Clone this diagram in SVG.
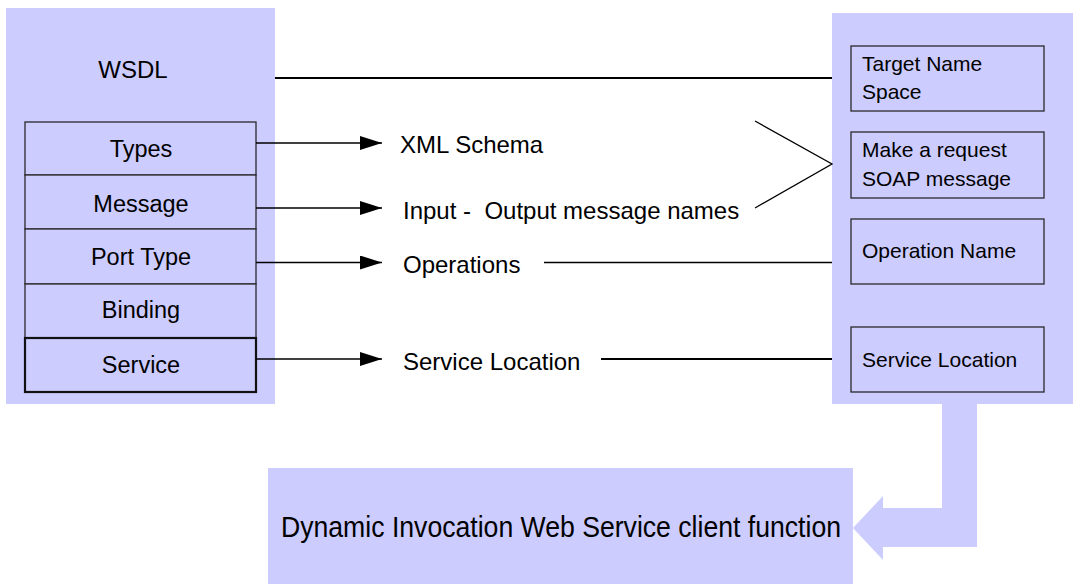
<svg xmlns="http://www.w3.org/2000/svg" width="1073" height="584" viewBox="0 0 1073 584">
  <style>
    .panel { fill: #CCCCFF; stroke: none; }
    .cell { fill: #CCCCFF; stroke: #2a2a2a; stroke-width: 1.3; }
    .cell-strong { fill: #CCCCFF; stroke: #111; stroke-width: 2.2; }
    .lbl { font-family: "Liberation Sans", Arial, sans-serif; fill: #000; white-space: pre; }
    .big { font-size: 24px; }
    .mid { font-size: 23.5px; }
    .small { font-size: 21px; }
    .wire { stroke: #000; stroke-width: 1.3; fill: none; }
    .wire-thick { stroke: #000; stroke-width: 2; fill: none; }
  </style>
  <defs>
    <marker id="tri" markerUnits="userSpaceOnUse" markerWidth="24" markerHeight="16" refX="22" refY="7" orient="auto">
      <polygon points="0,0 22,7 0,14" fill="#000"/>
    </marker>
  </defs>

  <!-- WSDL document panel -->
  <g id="wsdl">
    <rect class="panel" x="6" y="8" width="269" height="396"/>
    <text class="lbl big" x="133" y="78" text-anchor="middle">WSDL</text>
  </g>
  <g id="types">
    <rect class="cell" x="25" y="122" width="231" height="53"/>
    <text class="lbl mid" x="141" y="157" text-anchor="middle">Types</text>
  </g>
  <g id="message">
    <rect class="cell" x="25" y="175" width="231" height="54"/>
    <text class="lbl mid" x="141" y="212" text-anchor="middle">Message</text>
  </g>
  <g id="porttype">
    <rect class="cell" x="25" y="229" width="231" height="55"/>
    <text class="lbl mid" x="141" y="265" text-anchor="middle">Port Type</text>
  </g>
  <g id="binding">
    <rect class="cell" x="25" y="284" width="231" height="54"/>
    <text class="lbl mid" x="141" y="318" text-anchor="middle">Binding</text>
  </g>
  <g id="service">
    <rect class="cell-strong" x="25" y="338" width="231" height="54"/>
    <text class="lbl mid" x="141" y="373" text-anchor="middle">Service</text>
  </g>

  <!-- intermediate labels -->
  <g id="xmlschema"><text class="lbl big" x="400" y="153">XML Schema</text></g>
  <g id="iomessages"><text class="lbl big" x="403" y="219" xml:space="preserve">Input -  Output message names</text></g>
  <g id="operations"><text class="lbl big" x="403" y="273">Operations</text></g>
  <g id="servicelocation"><text class="lbl big" x="403" y="370">Service Location</text></g>

  <!-- client-side panel -->
  <g id="client">
    <rect class="panel" x="832" y="13" width="241" height="391"/>
  </g>
  <g id="tns">
    <rect class="cell" x="851" y="46" width="193" height="65"/>
    <text class="lbl small" x="862" y="71">Target Name</text>
    <text class="lbl small" x="862" y="99">Space</text>
  </g>
  <g id="soapreq">
    <rect class="cell" x="851" y="132" width="193" height="66"/>
    <text class="lbl small" x="862" y="157">Make a request</text>
    <text class="lbl small" x="862" y="186">SOAP message</text>
  </g>
  <g id="opname">
    <rect class="cell" x="851" y="219" width="193" height="65"/>
    <text class="lbl small" x="862" y="258">Operation Name</text>
  </g>
  <g id="svcloc">
    <rect class="cell" x="851" y="327" width="193" height="65"/>
    <text class="lbl small" x="862" y="367">Service Location</text>
  </g>

  <!-- resulting client function -->
  <g id="dii">
    <rect class="panel" x="268" y="468" width="585" height="116"/>
    <text class="lbl" font-size="29" x="281" y="537" textLength="560" lengthAdjust="spacingAndGlyphs">Dynamic Invocation Web Service client function</text>
  </g>

  <!-- connectors -->
  <g id="connectors">
    <line class="wire-thick" x1="275" y1="78" x2="832" y2="78"/>
    <line class="wire" x1="256" y1="143" x2="382" y2="143" marker-end="url(#tri)"/>
    <line class="wire" x1="256" y1="208" x2="382" y2="208" marker-end="url(#tri)"/>
    <line class="wire" x1="256" y1="262.5" x2="382" y2="262.5" marker-end="url(#tri)"/>
    <line class="wire" x1="256" y1="359" x2="382" y2="359" marker-end="url(#tri)"/>
    <line class="wire" x1="544" y1="262.5" x2="832" y2="262.5"/>
    <line class="wire-thick" x1="601" y1="359" x2="832" y2="359"/>
    <polyline class="wire" points="755,121 832,164 755,208"/>
    <polygon class="panel" points="942,404 977,404 977,547 883,547 883,560 853,528 883,496 883,508 942,508"/>
  </g>
</svg>
